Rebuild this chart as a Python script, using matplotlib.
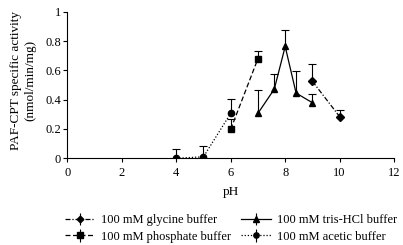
import matplotlib
matplotlib.use("Agg")
import matplotlib.pyplot as plt
import numpy as np

plt.rcParams['font.family'] = ['Liberation Serif', 'DejaVu Serif']

# Data
gly_x = [9, 10]
gly_y = [0.525, 0.284]
gly_e = [0.118, 0.046]

phos_x = [6, 7]
phos_y = [0.198, 0.68]
phos_e = [0.068, 0.051]

tris_x = [7, 7.6, 8, 8.4, 9]
tris_y = [0.307, 0.472, 0.763, 0.445, 0.379]
tris_e = [0.156, 0.10, 0.114, 0.15, 0.061]

acet_x = [4, 5, 6]
acet_y = [0.0, 0.01, 0.307]
acet_e = [0.061, 0.076, 0.099]

fig = plt.figure(figsize=(4.03, 2.45), dpi=100)
ax = fig.add_axes([0.167, 0.354, 0.811, 0.598])

def series(x, y, e, marker, ls, label, ms=4.5):
    cont = ax.errorbar(x, y, yerr=[np.zeros(len(e)), e], fmt=marker, ls=ls,
                       color='black', ecolor='black', elinewidth=0.8, lw=0.9,
                       capsize=3, capthick=0.8, ms=ms, label=label)
    caps = cont[1]
    if len(caps) >= 2:
        caps[0].set_visible(False)
    return cont

series(gly_x, gly_y, gly_e, 'D', (0, (4, 1.5, 1, 1.5)), '100 mM glycine buffer', ms=4)
series(phos_x, phos_y, phos_e, 's', (0, (4, 2)), '100 mM phosphate buffer')
series(tris_x, tris_y, tris_e, '^', '-', '100 mM tris-HCl buffer', ms=5)
series(acet_x, acet_y, acet_e, 'o', (0, (1, 1.5)), '100 mM acetic buffer')

ax.set_xlim(0, 12)
ax.set_ylim(0, 1)
ax.set_xticks(range(0, 13, 2))
ax.set_yticks([0, 0.2, 0.4, 0.6, 0.8, 1])
ax.set_yticklabels(['0', '0.2', '0.4', '0.6', '0.8', '1'])
ax.spines['top'].set_visible(False)
ax.spines['right'].set_visible(False)
ax.spines['left'].set_linewidth(0.8)
ax.spines['bottom'].set_linewidth(0.8)
ax.tick_params(axis='both', labelsize=9, length=3, width=0.8, colors='black')
ax.tick_params(axis='y', pad=1.5)
ax.tick_params(axis='x', pad=3)
ax.set_xlabel('pH', fontsize=9.5)
ax.xaxis.set_label_coords(0.5, -0.23)
ax.xaxis.label.set_va('center')
ax.set_ylabel('PAF-CPT specific activity\n(nmol/min/mg)', fontsize=9.5, linespacing=1.35)
ax.yaxis.set_label_coords(-0.135, 0.53)
ax.yaxis.label.set_va('center')

handles, labels = ax.get_legend_handles_labels()
fig.legend(handles, labels, ncol=2, loc='center', bbox_to_anchor=(0.573, 0.067),
           frameon=False, fontsize=9, handlelength=2.4, columnspacing=0.8,
           handletextpad=0.5, labelspacing=0.35, borderaxespad=0, borderpad=0,
           markerscale=0.85)

fig.savefig('out.png', dpi=100)
